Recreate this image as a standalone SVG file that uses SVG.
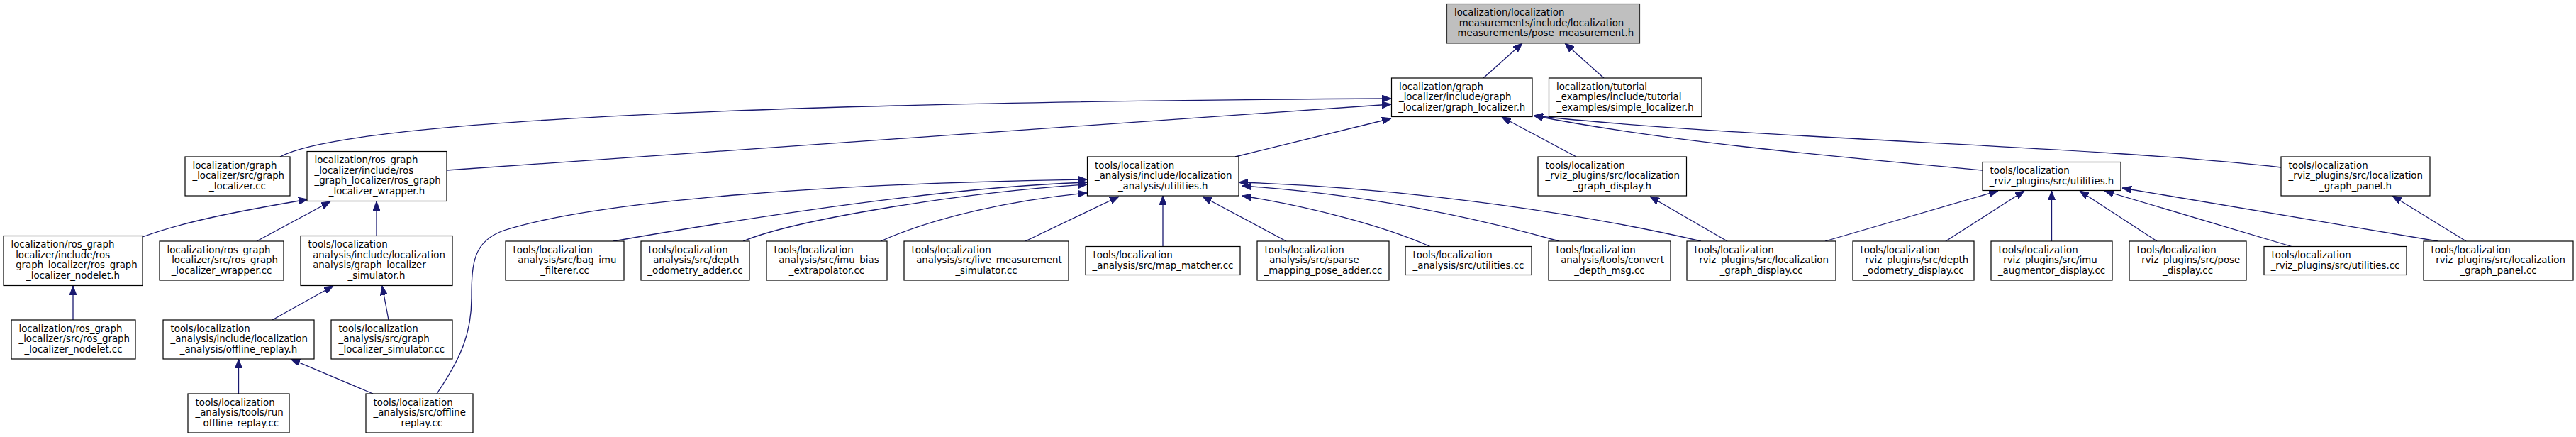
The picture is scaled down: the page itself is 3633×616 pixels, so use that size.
<svg xmlns="http://www.w3.org/2000/svg" width="3633" height="616" viewBox="0 0 3633 616">
<style>
.n rect{fill:#fff;stroke:#000;stroke-width:1.2}
.root rect{fill:#bfbfbf;stroke:#333}
text{font-family:'DejaVu Sans','Liberation Sans',sans-serif;font-size:13.33px;fill:#000}
.c{text-anchor:middle}
.e path{fill:none;stroke:#191970;stroke-width:1.3;marker-end:url(#ah)}
</style>
<defs>
<marker id="ah" markerUnits="userSpaceOnUse" viewBox="0 0 13 10" markerWidth="13" markerHeight="10" refX="13" refY="5" orient="auto">
<path d="M0,0 L13,5 L0,10 z" fill="#191970" stroke="#191970" stroke-width="1"/>
</marker>
</defs>
<rect x="0" y="0" width="3633" height="616" fill="#fff"/>
<g id="edges" class="e">
<path d="M2092,110 L2147,61"/>
<path d="M2262,110 L2207,61"/>
<path d="M395,221 C470,180 900,145 1962,139"/>
<path d="M630,240 L1962,147"/>
<path d="M1742,221 L1962,167"/>
<path d="M2223,221 L2118,165"/>
<path d="M2796,240 C2600,222 2350,200 2163,163"/>
<path d="M3217,236 C2950,205 2450,195 2163,163"/>
<path d="M201,334 C260,312 340,297 434,281"/>
<path d="M362,340 L466,284"/>
<path d="M531,332.5 L531,284"/>
<path d="M103,451 L103,403"/>
<path d="M384,451 L470,403"/>
<path d="M548,451 L539,403"/>
<path d="M336.5,555 L336.5,506"/>
<path d="M526,555 L410,506"/>
<path d="M616,555 C650,505 665,470 665,420 C665,370 668,340 710,325 C850,280 1200,258 1533,253"/>
<path d="M865,340 C980,320 1300,265 1533,257"/>
<path d="M1048,340 C1120,310 1350,272 1533,260"/>
<path d="M1242,340 C1320,305 1430,282 1533,272"/>
<path d="M1446,340 L1578,277"/>
<path d="M1640,347.5 L1640,276"/>
<path d="M1814,340 L1696,277"/>
<path d="M2017,347.5 C1950,318 1850,292 1752,276"/>
<path d="M2199,340 C2050,298 1900,272 1752,262"/>
<path d="M2399,340 C2250,305 2000,265 1747,257"/>
<path d="M2436,340 L2327,277"/>
<path d="M2574,340 L2818,269"/>
<path d="M2744,340 L2855,269"/>
<path d="M2893.5,340 L2893.5,269"/>
<path d="M3042,340 L2933,269"/>
<path d="M3232,347.5 L2968,269"/>
<path d="M3438,340 L2993,265"/>
<path d="M3478,340 L3374,276"/>
</g>
<g id="pose_measurement_h" class="n root"><rect x="2040.5" y="5.5" width="272" height="55.5"/>
<text x="2051" y="22">localization/localization</text>
<text x="2051" y="36.7">_measurements/include/localization</text>
<text x="2176.5" y="51.4" class="c">_measurements/pose_measurement.h</text></g>
<g id="graph_localizer_h" class="n"><rect x="1962.5" y="110" width="198.5" height="54.5"/>
<text x="1973" y="126.5">localization/graph</text>
<text x="1973" y="141.2">_localizer/include/graph</text>
<text x="2061.75" y="155.8" class="c">_localizer/graph_localizer.h</text></g>
<g id="simple_localizer_h" class="n"><rect x="2184.5" y="110" width="215.5" height="54.5"/>
<text x="2195" y="126.5">localization/tutorial</text>
<text x="2195" y="141.2">_examples/include/tutorial</text>
<text x="2292.25" y="155.8" class="c">_examples/simple_localizer.h</text></g>
<g id="graph_localizer_cc" class="n"><rect x="261" y="221" width="148" height="55"/>
<text x="271.5" y="237.5">localization/graph</text>
<text x="271.5" y="252.2">_localizer/src/graph</text>
<text x="335" y="266.8" class="c">_localizer.cc</text></g>
<g id="ros_graph_localizer_wrapper_h" class="n"><rect x="433" y="213.5" width="197" height="70"/>
<text x="443.5" y="230">localization/ros_graph</text>
<text x="443.5" y="244.7">_localizer/include/ros</text>
<text x="443.5" y="259.3">_graph_localizer/ros_graph</text>
<text x="531.5" y="274" class="c">_localizer_wrapper.h</text></g>
<g id="analysis_utilities_h" class="n"><rect x="1533.5" y="221" width="213.5" height="55"/>
<text x="1544" y="237.5">tools/localization</text>
<text x="1544" y="252.2">_analysis/include/localization</text>
<text x="1640.25" y="266.8" class="c">_analysis/utilities.h</text></g>
<g id="graph_display_h" class="n"><rect x="2169" y="221" width="209.5" height="55"/>
<text x="2179.5" y="237.5">tools/localization</text>
<text x="2179.5" y="252.2">_rviz_plugins/src/localization</text>
<text x="2273.75" y="266.8" class="c">_graph_display.h</text></g>
<g id="rviz_utilities_h" class="n"><rect x="2796" y="228.5" width="195" height="40"/>
<text x="2806.5" y="245">tools/localization</text>
<text x="2893.5" y="259.7" class="c">_rviz_plugins/src/utilities.h</text></g>
<g id="graph_panel_h" class="n"><rect x="3217" y="221" width="210" height="55"/>
<text x="3227.5" y="237.5">tools/localization</text>
<text x="3227.5" y="252.2">_rviz_plugins/src/localization</text>
<text x="3322" y="266.8" class="c">_graph_panel.h</text></g>
<g id="ros_graph_localizer_nodelet_h" class="n"><rect x="5" y="332.5" width="196" height="70"/>
<text x="15.5" y="349">localization/ros_graph</text>
<text x="15.5" y="363.7">_localizer/include/ros</text>
<text x="15.5" y="378.3">_graph_localizer/ros_graph</text>
<text x="103" y="393" class="c">_localizer_nodelet.h</text></g>
<g id="ros_graph_localizer_wrapper_cc" class="n"><rect x="225" y="340" width="175" height="55"/>
<text x="235.5" y="356.5">localization/ros_graph</text>
<text x="235.5" y="371.2">_localizer/src/ros_graph</text>
<text x="312.5" y="385.8" class="c">_localizer_wrapper.cc</text></g>
<g id="graph_localizer_simulator_h" class="n"><rect x="424" y="332.5" width="214" height="70"/>
<text x="434.5" y="349">tools/localization</text>
<text x="434.5" y="363.7">_analysis/include/localization</text>
<text x="434.5" y="378.3">_analysis/graph_localizer</text>
<text x="531" y="393" class="c">_simulator.h</text></g>
<g id="bag_imu_filterer_cc" class="n"><rect x="713" y="340" width="167" height="55"/>
<text x="723.5" y="356.5">tools/localization</text>
<text x="723.5" y="371.2">_analysis/src/bag_imu</text>
<text x="796.5" y="385.8" class="c">_filterer.cc</text></g>
<g id="depth_odometry_adder_cc" class="n"><rect x="904" y="340" width="153" height="55"/>
<text x="914.5" y="356.5">tools/localization</text>
<text x="914.5" y="371.2">_analysis/src/depth</text>
<text x="980.5" y="385.8" class="c">_odometry_adder.cc</text></g>
<g id="imu_bias_extrapolator_cc" class="n"><rect x="1081" y="340" width="170" height="55"/>
<text x="1091.5" y="356.5">tools/localization</text>
<text x="1091.5" y="371.2">_analysis/src/imu_bias</text>
<text x="1166" y="385.8" class="c">_extrapolator.cc</text></g>
<g id="live_measurement_simulator_cc" class="n"><rect x="1275" y="340" width="232" height="55"/>
<text x="1285.5" y="356.5">tools/localization</text>
<text x="1285.5" y="371.2">_analysis/src/live_measurement</text>
<text x="1391" y="385.8" class="c">_simulator.cc</text></g>
<g id="map_matcher_cc" class="n"><rect x="1531" y="347.5" width="218" height="40"/>
<text x="1541.5" y="364">tools/localization</text>
<text x="1640" y="378.7" class="c">_analysis/src/map_matcher.cc</text></g>
<g id="sparse_mapping_pose_adder_cc" class="n"><rect x="1773" y="340" width="186" height="55"/>
<text x="1783.5" y="356.5">tools/localization</text>
<text x="1783.5" y="371.2">_analysis/src/sparse</text>
<text x="1866" y="385.8" class="c">_mapping_pose_adder.cc</text></g>
<g id="analysis_utilities_cc" class="n"><rect x="1982" y="347.5" width="178" height="40"/>
<text x="1992.5" y="364">tools/localization</text>
<text x="2071" y="378.7" class="c">_analysis/src/utilities.cc</text></g>
<g id="convert_depth_msg_cc" class="n"><rect x="2184" y="340" width="172" height="55"/>
<text x="2194.5" y="356.5">tools/localization</text>
<text x="2194.5" y="371.2">_analysis/tools/convert</text>
<text x="2270" y="385.8" class="c">_depth_msg.cc</text></g>
<g id="graph_display_cc" class="n"><rect x="2379" y="340" width="210" height="55"/>
<text x="2389.5" y="356.5">tools/localization</text>
<text x="2389.5" y="371.2">_rviz_plugins/src/localization</text>
<text x="2484" y="385.8" class="c">_graph_display.cc</text></g>
<g id="depth_odometry_display_cc" class="n"><rect x="2613" y="340" width="171" height="55"/>
<text x="2623.5" y="356.5">tools/localization</text>
<text x="2623.5" y="371.2">_rviz_plugins/src/depth</text>
<text x="2698.5" y="385.8" class="c">_odometry_display.cc</text></g>
<g id="imu_augmentor_display_cc" class="n"><rect x="2808" y="340" width="171" height="55"/>
<text x="2818.5" y="356.5">tools/localization</text>
<text x="2818.5" y="371.2">_rviz_plugins/src/imu</text>
<text x="2893.5" y="385.8" class="c">_augmentor_display.cc</text></g>
<g id="pose_display_cc" class="n"><rect x="3003" y="340" width="165" height="55"/>
<text x="3013.5" y="356.5">tools/localization</text>
<text x="3013.5" y="371.2">_rviz_plugins/src/pose</text>
<text x="3085.5" y="385.8" class="c">_display.cc</text></g>
<g id="rviz_utilities_cc" class="n"><rect x="3193" y="347.5" width="201" height="40"/>
<text x="3203.5" y="364">tools/localization</text>
<text x="3293.5" y="378.7" class="c">_rviz_plugins/src/utilities.cc</text></g>
<g id="graph_panel_cc" class="n"><rect x="3418" y="340" width="211" height="55"/>
<text x="3428.5" y="356.5">tools/localization</text>
<text x="3428.5" y="371.2">_rviz_plugins/src/localization</text>
<text x="3523.5" y="385.8" class="c">_graph_panel.cc</text></g>
<g id="ros_graph_localizer_nodelet_cc" class="n"><rect x="16" y="451" width="175" height="55"/>
<text x="26.5" y="467.5">localization/ros_graph</text>
<text x="26.5" y="482.2">_localizer/src/ros_graph</text>
<text x="103.5" y="496.8" class="c">_localizer_nodelet.cc</text></g>
<g id="offline_replay_h" class="n"><rect x="230" y="451" width="213" height="55"/>
<text x="240.5" y="467.5">tools/localization</text>
<text x="240.5" y="482.2">_analysis/include/localization</text>
<text x="336.5" y="496.8" class="c">_analysis/offline_replay.h</text></g>
<g id="graph_localizer_simulator_cc" class="n"><rect x="467" y="451" width="171" height="55"/>
<text x="477.5" y="467.5">tools/localization</text>
<text x="477.5" y="482.2">_analysis/src/graph</text>
<text x="552.5" y="496.8" class="c">_localizer_simulator.cc</text></g>
<g id="run_offline_replay_cc" class="n"><rect x="265" y="555" width="143" height="55"/>
<text x="275.5" y="571.5">tools/localization</text>
<text x="275.5" y="586.2">_analysis/tools/run</text>
<text x="336.5" y="600.8" class="c">_offline_replay.cc</text></g>
<g id="offline_replay_cc" class="n"><rect x="516" y="555" width="151" height="55"/>
<text x="526.5" y="571.5">tools/localization</text>
<text x="526.5" y="586.2">_analysis/src/offline</text>
<text x="591.5" y="600.8" class="c">_replay.cc</text></g>
</svg>
